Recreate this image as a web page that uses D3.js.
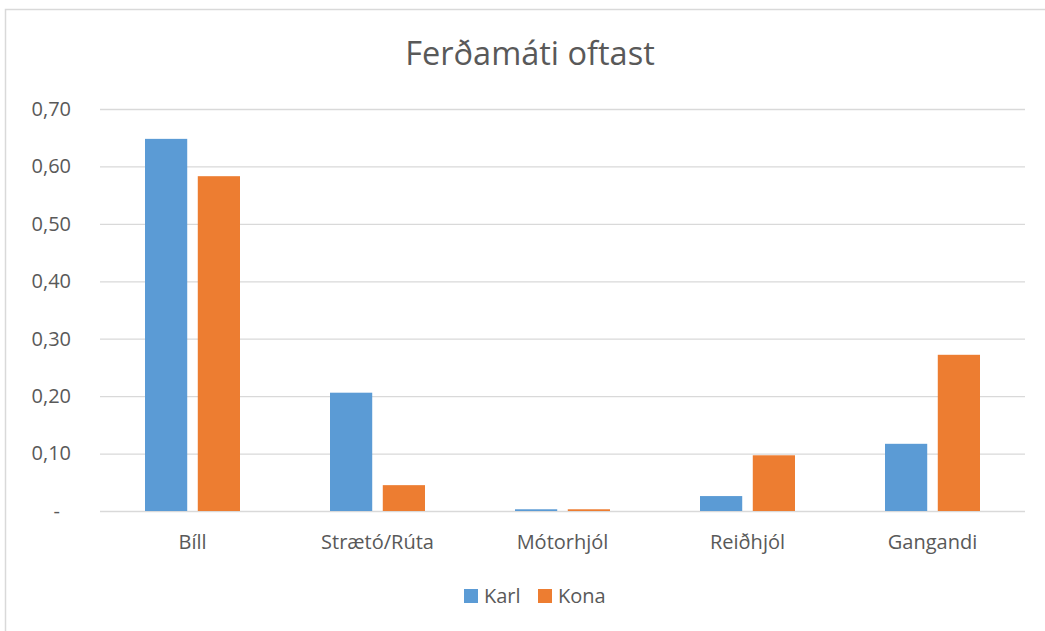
<!DOCTYPE html>
<html>
<head>
<meta charset="utf-8">
<script src="https://cdn.jsdelivr.net/npm/d3@7"></script>
<style>
  html, body { margin: 0; padding: 0; background: #fff; }
  svg { display: block; font-family: "Open Sans", "Noto Sans", sans-serif; }
</style>
</head>
<body>
<div id="chart"></div>
<script>
// data
const categories = ['Bíll', 'Strætó/Rúta', 'Mótorhjól', 'Reiðhjól', 'Gangandi'];
const seriesNames = ['Karl', 'Kona'];
const karl = [0.648, 0.206, 0.003, 0.026, 0.117];
const kona = [0.583, 0.045, 0.003, 0.097, 0.272];
const yTicks = [0, 0.1, 0.2, 0.3, 0.4, 0.5, 0.6, 0.7];
const colors = ['#5b9bd5', '#ed7d31'];

const width = 1045;
const height = 631;
const plot = { left: 100, right: 1025, top: 109, bottom: 511 };
const labelSize = 20;

const svg = d3.select('#chart')
  .append('svg')
  .attr('width', width)
  .attr('height', height);

// chart area border (right/bottom edges fall outside the view)
svg.append('rect')
  .attr('x', 5.5)
  .attr('y', 9.5)
  .attr('width', 1100)
  .attr('height', 700)
  .attr('fill', 'none')
  .attr('stroke', '#d9d9d9')
  .attr('stroke-width', 1.5);

// title
svg.append('text')
  .attr('x', 530)
  .attr('y', 65)
  .attr('text-anchor', 'middle')
  .attr('font-size', 32.5)
  .attr('fill', '#595959')
  .text('Ferðamáti oftast');

// scales
const x0 = d3.scaleBand()
  .domain(categories)
  .range([plot.left, plot.right])
  .padding(0);

const groupWidth = 95;
const x1 = d3.scaleBand()
  .domain(seriesNames)
  .range([(x0.bandwidth() - groupWidth) / 2, (x0.bandwidth() + groupWidth) / 2])
  .paddingInner(0.2);

const y = d3.scaleLinear()
  .domain([0, 0.7])
  .range([plot.bottom, plot.top]);

const fmt = v => v === 0 ? '-' : d3.format('.2f')(v).replace('.', ',');

// gridlines + y labels
const yAxis = d3.axisLeft(y)
  .tickValues(yTicks)
  .tickSize(-(plot.right - plot.left))
  .tickPadding(29)
  .tickFormat(fmt);

const gy = svg.append('g')
  .attr('class', 'yaxis')
  .attr('transform', `translate(${plot.left},0)`)
  .call(yAxis);

gy.select('.domain').remove();
gy.selectAll('.tick line')
  .attr('stroke', '#d9d9d9')
  .attr('stroke-width', 1.3);
gy.selectAll('.tick text')
  .attr('fill', '#595959')
  .attr('font-size', labelSize)
  .attr('font-family', '"Open Sans", sans-serif')
  // accounting style: the zero dash sits a bit left of the numbers
  .attr('dx', d => d === 0 ? -11 : 0);

// bars
const rows = categories.map((c, i) => ({ cat: c, values: [karl[i], kona[i]] }));

const groups = svg.append('g')
  .attr('class', 'bars')
  .selectAll('g')
  .data(rows)
  .enter()
  .append('g')
  .attr('transform', d => `translate(${x0(d.cat)},0)`);

groups.selectAll('rect')
  .data(d => d.values.map((v, j) => ({ name: seriesNames[j], value: v, j })))
  .enter()
  .append('rect')
  .attr('x', d => x1(d.name))
  .attr('y', d => y(d.value))
  .attr('width', x1.bandwidth())
  .attr('height', d => y(0) - y(d.value))
  .attr('fill', d => colors[d.j]);

// x axis labels
const xAxis = d3.axisBottom(x0)
  .tickSize(0)
  .tickPadding(24);

const gx = svg.append('g')
  .attr('class', 'xaxis')
  .attr('transform', `translate(0,${plot.bottom})`)
  .call(xAxis);

gx.select('.domain').remove();
gx.selectAll('.tick text')
  .attr('fill', '#595959')
  .attr('font-size', labelSize)
  .attr('font-family', '"Open Sans", sans-serif');

// legend
const legendPos = [464, 538];
const legend = svg.append('g')
  .attr('class', 'legend')
  .selectAll('g')
  .data(seriesNames)
  .enter()
  .append('g')
  .attr('transform', (d, i) => `translate(${legendPos[i]},589)`);

legend.append('rect')
  .attr('width', 14)
  .attr('height', 14)
  .attr('fill', (d, i) => colors[i]);

legend.append('text')
  .attr('x', 20)
  .attr('y', 14)
  .attr('font-size', labelSize)
  .attr('fill', '#595959')
  .text(d => d);
</script>
</body>
</html>
